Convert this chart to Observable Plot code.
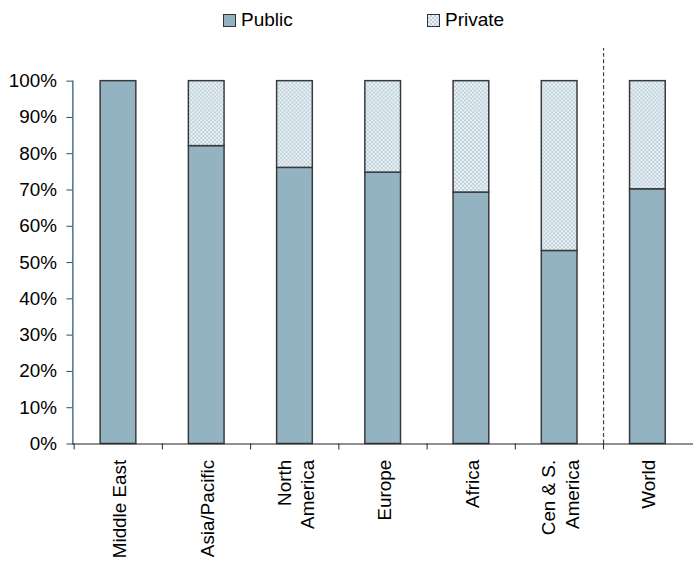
<!DOCTYPE html>
<html>
<head>
<meta charset="utf-8">
<script src="https://cdn.jsdelivr.net/npm/d3@7"></script>
<script src="https://cdn.jsdelivr.net/npm/@observablehq/plot@0.6"></script>
<style>
  html, body { margin: 0; padding: 0; background: #fff; overflow: hidden; width: 693px; height: 563px; }
  #legend { position: relative; height: 40px; font-family: "Liberation Sans", Arial, sans-serif; font-size: 19px; color: #000; }
  .item { position: absolute; top: 9px; display: flex; align-items: center; }
  .sw { width: 11px; height: 11px; border: 1px solid #333; margin-right: 5px; }
  #chart svg { display: block; }
</style>
</head>
<body>
<div id="legend">
  <div class="item" style="left:223px"><span class="sw" style="background:#93b3c3"></span>Public</div>
  <div class="item" style="left:427px"><span class="sw" style="background: repeating-conic-gradient(#bcd1dd 0% 25%, #eef3f6 0% 50%) 0 0 / 4px 4px"></span>Private</div>
</div>
<div id="chart"></div>
<script>
const categories = ["Middle East", "Asia/Pacific", "North America", "Europe", "Africa", "Cen & S. America", "World"];
const tickLabels = ["Middle East", "Asia/Pacific", "North\nAmerica", "Europe", "Africa", "Cen & S.\nAmerica", "World"];
const publicShare = [100, 82.1, 76.1, 74.8, 69.3, 53.2, 70.2];
const yTicks = [0, 10, 20, 30, 40, 50, 60, 70, 80, 90, 100];
const seriesNames = ["Public", "Private"];

const rows = categories.map((c, i) => ({cat: c, label: tickLabels[i], pub: publicShare[i], priv: 100 - publicShare[i]}));

const W = 699, ML = 73, MR = 0;
const step = (W - ML - MR) / categories.length;
const font = "Liberation Sans, Arial, sans-serif";

const chart = Plot.plot({
  width: W,
  height: 523,
  marginLeft: ML,
  marginRight: MR,
  marginTop: 41,
  marginBottom: 116,
  style: {fontFamily: font, fontSize: "19px", color: "#000", background: "#fff"},
  x: {type: "band", domain: categories, paddingInner: 0.6, paddingOuter: 0.3, axis: null},
  y: {domain: [0, 100], axis: null},
  marks: [
    Plot.barY(rows, {x: "cat", y1: 0, y2: "pub", fill: "#93b3c3", stroke: "#3a3a3a", strokeWidth: 1.5}),
    Plot.barY(rows.filter(d => d.priv > 0), {x: "cat", y1: "pub", y2: 100, fill: "url(#chk)", stroke: "#3a3a3a", strokeWidth: 1.5}),
    Plot.ruleX(["World"], {x: d => d, y1: 0, y2: 109, dx: -step / 2, stroke: "#444", strokeWidth: 1.2, strokeDasharray: "4,2.5"}),
    Plot.axisY({ticks: yTicks, tickFormat: d => d + "%", tickSize: 6, tickPadding: 10, stroke: "#1f4f73", fontSize: 19, label: null}),
    Plot.frame({anchor: "left", stroke: "#1f4f73", strokeWidth: 1.2}),
    Plot.ruleY([0], {stroke: "#222", strokeWidth: 1.2}),
    Plot.axisX({tickSize: 6, tickFormat: () => "", dx: -step / 2, stroke: "#222", label: null}),
    Plot.text(rows, {x: "cat", y: 0, text: "label", rotate: -90, textAnchor: "end", lineAnchor: "middle", lineHeight: 1.26, dy: 16, fontSize: 19, fill: "#000"})
  ]
});

const defs = d3.select(chart).insert("defs", ":first-child");
const pat = defs.append("pattern").attr("id", "chk").attr("patternUnits", "userSpaceOnUse").attr("width", 4).attr("height", 4);
pat.append("rect").attr("width", 4).attr("height", 4).attr("fill", "#eef3f6");
pat.append("rect").attr("width", 2).attr("height", 2).attr("fill", "#bcd1dd");
pat.append("rect").attr("x", 2).attr("y", 2).attr("width", 2).attr("height", 2).attr("fill", "#bcd1dd");

document.getElementById("chart").appendChild(chart);
</script>
</body>
</html>
